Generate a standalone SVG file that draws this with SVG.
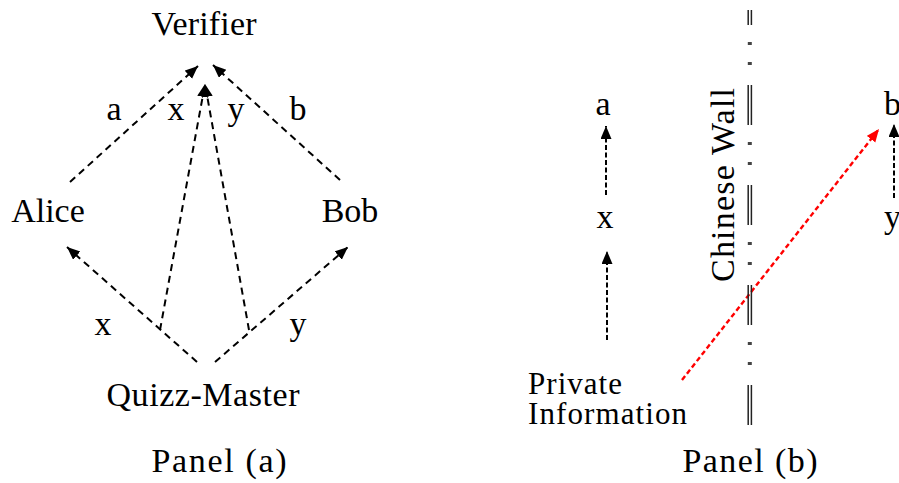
<svg xmlns="http://www.w3.org/2000/svg" width="899" height="483" viewBox="0 0 899 483">
<defs>
<style>
text{font-family:"Liberation Serif","Times New Roman",serif;font-size:34px;fill:#000}
.c{text-anchor:middle}
.d{fill:none;stroke:#000;stroke-width:2;stroke-dasharray:7 5}
.d2{fill:none;stroke:#000;stroke-width:2;stroke-dasharray:5 2.5}
.r{fill:none;stroke:#f00;stroke-width:2.4;stroke-dasharray:5 3}
.w{fill:none;stroke:#222;stroke-width:1.5;stroke-dasharray:40 60;stroke-dashoffset:25}
.wd{fill:none;stroke:#444;stroke-width:4;stroke-dasharray:3 17 3 77;stroke-dashoffset:68}
</style>
<marker id="ah" markerUnits="userSpaceOnUse" markerWidth="14" markerHeight="12" refX="13" refY="5.5" orient="auto"><path d="M0,0 L13,5.5 L0,11 Z" fill="#000"/></marker>
<marker id="ahr" markerUnits="userSpaceOnUse" markerWidth="14" markerHeight="12" refX="13" refY="5.5" orient="auto"><path d="M0,0 L13,5.5 L0,11 Z" fill="#f00"/></marker>
</defs>
<rect width="899" height="483" fill="#fff"/>
<g id="connectors">
<line class="d" x1="70" y1="182" x2="198" y2="66" marker-end="url(#ah)"/>
<line class="d" x1="340" y1="180" x2="213" y2="65" marker-end="url(#ah)"/>
<line class="d" x1="160" y1="330" x2="205" y2="84" marker-end="url(#ah)"/>
<line class="d" x1="249" y1="330" x2="205" y2="84" marker-end="url(#ah)"/>
<line class="d" x1="197" y1="362" x2="67" y2="247" marker-end="url(#ah)"/>
<line class="d" x1="215" y1="362" x2="348" y2="247" marker-end="url(#ah)"/>
<line class="d2" x1="606" y1="195" x2="606" y2="126" marker-end="url(#ah)"/>
<line class="d2" x1="607" y1="340" x2="607" y2="251" marker-end="url(#ah)"/>
<line class="d2" x1="894" y1="198" x2="894" y2="124" marker-end="url(#ah)"/>
<line class="r" x1="682" y1="380" x2="879" y2="129" marker-end="url(#ahr)"/>
</g>
<g id="wall">
<line class="w" x1="748.2" y1="10" x2="748.2" y2="425"/>
<line class="w" x1="751.4" y1="10" x2="751.4" y2="425"/>
<line class="wd" x1="749.8" y1="10" x2="749.8" y2="425"/>
<text transform="translate(734,185) rotate(-90)" class="c" textLength="194">Chinese Wall</text>
</g>
<g id="verifier"><text x="204" y="35" class="c" textLength="105">Verifier</text></g>
<g id="alice"><text x="48" y="222" class="c">Alice</text></g>
<g id="bob"><text x="350" y="222" class="c">Bob</text></g>
<g id="quizzmaster"><text x="203" y="406" class="c" textLength="193">Quizz-Master</text></g>
<g id="labels-a">
<text x="114" y="120" class="c">a</text>
<text x="176" y="120" class="c">x</text>
<text x="236" y="120" class="c">y</text>
<text x="298" y="120" class="c">b</text>
<text x="103" y="335" class="c">x</text>
<text x="298" y="335" class="c">y</text>
</g>
<g id="panel-a"><text x="219" y="472" class="c" textLength="135">Panel (a)</text></g>
<g id="node-a"><text x="603" y="115" class="c">a</text></g>
<g id="node-x"><text x="605" y="228" class="c">x</text></g>
<g id="private-info"><text x="528" y="394" style="font-size:31px" textLength="94">Private</text><text x="528" y="424" style="font-size:31px" textLength="159">Information</text></g>
<g id="node-b"><text x="884" y="115">b</text></g>
<g id="node-y"><text x="884" y="228">y</text></g>
<g id="panel-b"><text x="750" y="472" class="c" textLength="135">Panel (b)</text></g>
</svg>
